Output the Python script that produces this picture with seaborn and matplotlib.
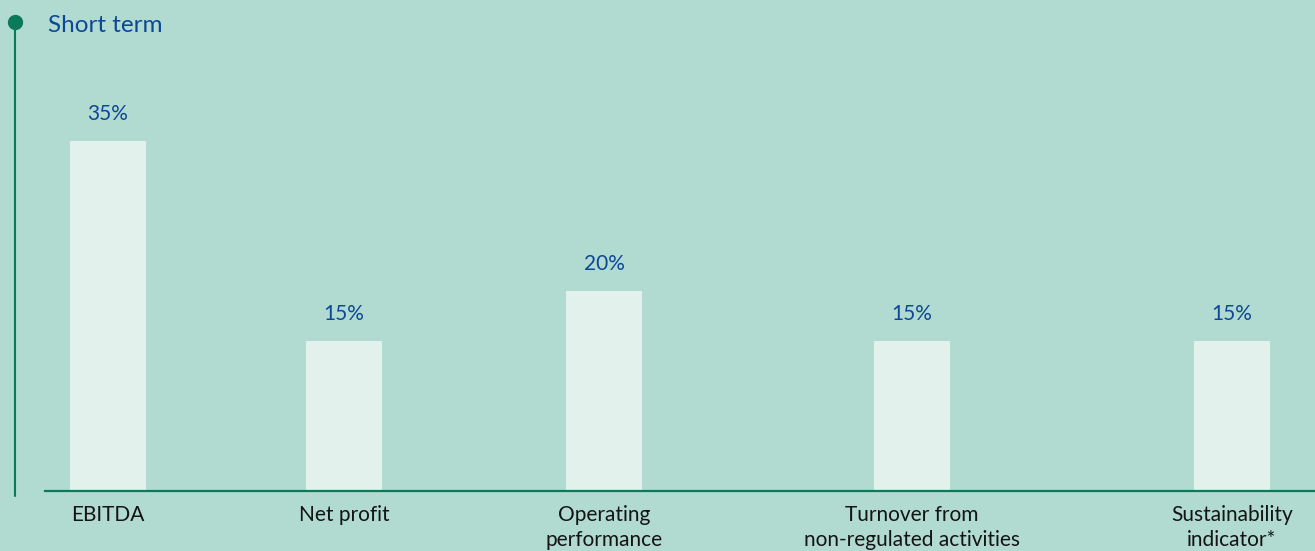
import matplotlib
matplotlib.use("Agg")
import matplotlib.pyplot as plt
from matplotlib.lines import Line2D
import seaborn as sns
import pandas as pd

# ---- data ----
categories = ["EBITDA", "Net profit", "Operating\nperformance",
              "Turnover from\nnon-regulated activities", "Sustainability\nindicator*"]
weights = [35, 15, 20, 15, 15]
value_labels = ["35%", "15%", "20%", "15%", "15%"]
title = "Short term"

# ---- layout (slot positions of the categories along the axis) ----
slot_pos = [108, 344, 604, 912, 1232]

BG = "#b1dbd1"
BAR = "#e2f1ec"
BLUE = "#0d4896"
GREEN = "#0b7a5a"
FONT = ["Lato", "DejaVu Sans"]

sns.set_theme(style="white")
plt.rcParams["font.family"] = FONT

W, H = 1315, 551
fig = plt.figure(figsize=(W / 100, H / 100), dpi=100, facecolor=BG)
ax = fig.add_axes([45 / W, 60 / H, (W - 45) / W, 451 / H])
ax.set_facecolor(BG)

df = pd.DataFrame({"pos": slot_pos, "w": weights, "cat": categories})
sns.barplot(data=df, x="pos", y="w", native_scale=True, width=76 / 236,
            color=BAR, saturation=1, ax=ax, edgecolor="none", linewidth=0)

ax.set_xlim(45, W)
ax.set_ylim(0, 45.1)
ax.set_xticks(slot_pos)
ax.set_xticklabels(categories, fontsize=15, color="#141414", linespacing=1.3)
ax.tick_params(axis="x", length=0, pad=10)
ax.set_yticks([])
ax.set_xlabel("")
ax.set_ylabel("")
for s in ["top", "right", "left"]:
    ax.spines[s].set_visible(False)
ax.spines["bottom"].set_color(GREEN)
ax.spines["bottom"].set_linewidth(1.6)

for p, v, lab in zip(slot_pos, weights, value_labels):
    ax.annotate(lab, (p, v), xytext=(0, 12), textcoords="offset points",
                ha="center", va="bottom", fontsize=15, color=BLUE)

# left timeline line with dot
fig.add_artist(Line2D([14.7 / W, 14.7 / W], [1 - 22 / H, 1 - 496 / H],
                      transform=fig.transFigure, color=GREEN, lw=1.5))
fig.add_artist(Line2D([14.7 / W], [1 - 22 / H], transform=fig.transFigure,
                      marker="o", markersize=10, color=GREEN, lw=0))

fig.text(48 / W, 1 - 26 / H, title, fontsize=17.5, color=BLUE, ha="left", va="center")

fig.savefig("out.png", dpi=100, facecolor=BG)
